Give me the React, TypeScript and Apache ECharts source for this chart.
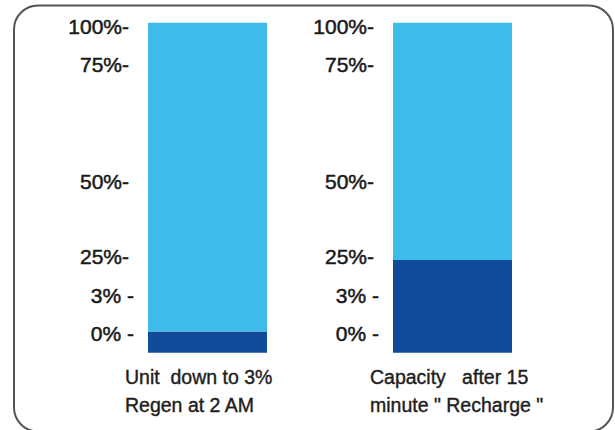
import React, { useEffect, useRef } from "react";
import * as echarts from "echarts";

// Bar captions (one per panel)
const captions = ["Unit  down to 3%\nRegen at 2 AM", "Capacity   after 15\nminute \" Recharge \""];
// Drawn charge level of each bar (axis units, bar full = 100)
const chargeLevels = [6.4, 28.1];
const fullLevel = 100;
// Tick labels and where they sit on the (schematic, non-linear) axis
const tickLabels = ["0% -", "3% -", "25%-", "50%-", "75%-", "100%-"];
const tickPositions = [5.7, 17.2, 29.1, 51.8, 87.2, 99.0];

const LIGHT = "#3dbbe9";
const DARK = "#114b99";
const FONT = "Liberation Sans, Arial, sans-serif";

export default function App() {
  const ref = useRef<HTMLDivElement>(null);
  useEffect(() => {
    document.body.style.margin = "0";
    if (!ref.current) return;
    const chart = echarts.init(ref.current, undefined, { renderer: "svg" });
    const lefts = [148, 393];
    const grids = lefts.map((l) => ({ left: l, width: 119, top: 22.7, height: 330 }));
    const tickStyle = {
      fontSize: 21,
      color: "#1a1a1a",
      fontFamily: FONT,
      textBorderColor: "#1a1a1a",
      textBorderWidth: 0.5,
    };
    const xAxes = captions.map((c, i) => ({
      type: "category" as const,
      gridIndex: i,
      data: [c],
      axisLine: { show: false },
      axisTick: { show: false },
      axisLabel: {
        interval: 0,
        margin: 10,
        formatter: (v: string) => `{c|${v}}`,
        rich: {
          c: {
            width: 165,
            align: "left",
            fontSize: 19.5,
            lineHeight: 28,
            color: "#1e1e1e",
            fontFamily: FONT,
            textBorderColor: "#1e1e1e",
            textBorderWidth: 0.4,
          },
        },
      },
    }));
    const yAxes = captions.map((_, i) => ({
      type: "value" as const,
      gridIndex: i,
      min: 0,
      max: fullLevel,
      axisLine: { show: false },
      axisTick: { show: false },
      splitLine: { show: false },
      axisLabel: {
        customValues: tickPositions,
        margin: 14,
        formatter: (v: number) => {
          const k = tickPositions.findIndex((p) => Math.abs(p - v) < 1e-6);
          if (k < 0) return "";
          const t = tickLabels[k];
          return t.indexOf("% -") >= 0 ? `{s|${t}}` : `{n|${t}}`;
        },
        rich: {
          s: { ...tickStyle },
          n: { ...tickStyle, padding: [0, 5, 0, 0] },
        },
      },
    }));
    const series: any[] = [];
    captions.forEach((_, i) => {
      series.push({
        type: "bar",
        xAxisIndex: i,
        yAxisIndex: i,
        stack: "s" + i,
        barWidth: "100%",
        data: [chargeLevels[i]],
        itemStyle: { color: DARK },
      });
      series.push({
        type: "bar",
        xAxisIndex: i,
        yAxisIndex: i,
        stack: "s" + i,
        barWidth: "100%",
        data: [fullLevel - chargeLevels[i]],
        itemStyle: { color: LIGHT },
      });
    });
    chart.setOption({
      animation: false,
      backgroundColor: "#ffffff",
      grid: grids,
      xAxis: xAxes,
      yAxis: yAxes,
      series,
      graphic: [
        {
          type: "rect",
          shape: { x: 14, y: 5.5, width: 599, height: 426, r: 24 },
          style: { fill: "none", stroke: "#555555", lineWidth: 2 },
          silent: true,
        },
      ],
    });
    return () => chart.dispose();
  }, []);
  return <div ref={ref} style={{ width: 615, height: 430 }} />;
}
